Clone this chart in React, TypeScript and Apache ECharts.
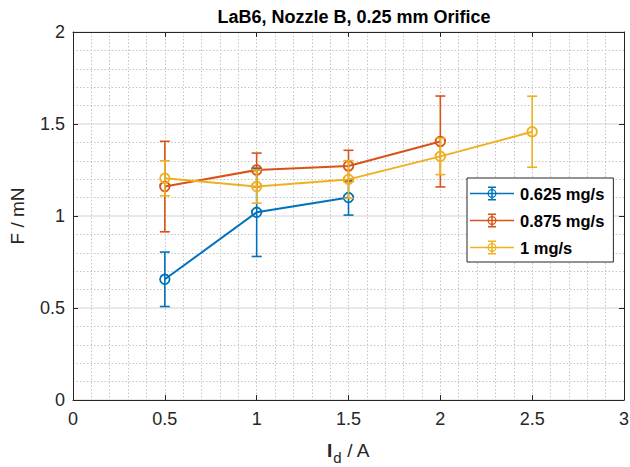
import React, { useEffect, useRef } from "react";
import * as echarts from "echarts";

// Discharge current I_d (A) for each flow rate
const currents0625 = [0.5, 1.0, 1.5];
const currents0875 = [0.5, 1.0, 1.5, 2.0];
const currents1000 = [0.5, 1.0, 1.5, 2.0, 2.5];

// Mean thrust F (mN)
const thrust0625 = [0.656, 1.02, 1.1];
const thrust0875 = [1.16, 1.25, 1.272, 1.405];
const thrust1000 = [1.205, 1.16, 1.199, 1.324, 1.458];

// Half-width of the error bars (mN)
const err0625 = [0.148, 0.24, 0.095];
const err0875 = [0.246, 0.092, 0.085, 0.247];
const err1000 = [0.095, 0.09, 0.102, 0.099, 0.193];

const seriesNames = ["0.625 mg/s", "0.875 mg/s", "1 mg/s"];
const seriesColors = ["#0072BD", "#D95319", "#EDB120"];

const xTicks = { min: 0, max: 3, interval: 0.5 };
const yTicks = { min: 0, max: 2, interval: 0.5 };

const FONT = 'Arial, "Liberation Sans", Helvetica, sans-serif';
const TEXT = "#262626";

// Legend glyph: line + errorbar + hollow circle (ring via opposite winding)
const ERRORBAR_ICON =
  "path://M0 6.25H44V7.75H0Z" +
  "M21.25 0H22.75V14H21.25Z" +
  "M18 0H26V1.5H18Z" +
  "M18 12.5H26V14H18Z" +
  "M26.5 7A4.5 4.5 0 1 1 17.5 7A4.5 4.5 0 1 1 26.5 7Z" +
  "M25.2 7A3.2 3.2 0 1 0 18.8 7A3.2 3.2 0 1 0 25.2 7Z";

type Group = { x: number[]; y: number[]; e: number[] };
const groups: Group[] = [
  { x: currents0625, y: thrust0625, e: err0625 },
  { x: currents0875, y: thrust0875, e: err0875 },
  { x: currents1000, y: thrust1000, e: err1000 },
];

function buildSeries(): any[] {
  const out: any[] = [];
  groups.forEach((g, i) => {
    const color = seriesColors[i];
    out.push({
      name: seriesNames[i],
      type: "line",
      data: g.x.map((x, k) => [x, g.y[k]]),
      symbol: "none",
      lineStyle: { color, width: 2 },
      itemStyle: { color },
      z: 2 + i * 2,
    });
    out.push({
      name: "err-" + seriesNames[i],
      type: "custom",
      data: g.x.map((x, k) => [x, g.y[k], g.y[k] - g.e[k], g.y[k] + g.e[k]]),
      encode: { x: 0, y: [1, 2, 3] },
      z: 3 + i * 2,
      renderItem: (_params: any, api: any) => {
        const x = api.value(0);
        const c = api.coord([x, api.value(1)]);
        const lo = api.coord([x, api.value(2)]);
        const hi = api.coord([x, api.value(3)]);
        const half = 5;
        const style = { stroke: color, lineWidth: 1.6, fill: "none" };
        return {
          type: "group",
          children: [
            { type: "line", shape: { x1: lo[0], y1: lo[1], x2: hi[0], y2: hi[1] }, style },
            { type: "line", shape: { x1: hi[0] - half, y1: hi[1], x2: hi[0] + half, y2: hi[1] }, style },
            { type: "line", shape: { x1: lo[0] - half, y1: lo[1], x2: lo[0] + half, y2: lo[1] }, style },
            { type: "circle", shape: { cx: c[0], cy: c[1], r: 4.8 }, style: { stroke: color, lineWidth: 1.8, fill: "none" } },
          ],
        };
      },
    });
  });
  return out;
}

const dotted = { color: "#c4c4c4", width: 1, type: [1.5, 2] as any };

export default function App() {
  const ref = useRef<HTMLDivElement>(null);

  useEffect(() => {
    if (!ref.current) return;
    const chart = echarts.init(ref.current, undefined, { renderer: "svg" });
    const tickStyle = { show: true, inside: true, length: 5, lineStyle: { color: TEXT, width: 1 } };
    const axisLine = { show: true, onZero: false, lineStyle: { color: TEXT, width: 1 } };

    chart.setOption({
      animation: false,
      backgroundColor: "#ffffff",
      title: {
        text: "LaB6, Nozzle B, 0.25 mm Orifice",
        left: 349,
        top: 3,
        textAlign: "center",
        textStyle: { fontFamily: FONT, fontSize: 18, fontWeight: "bold", color: "#000" },
      },
      grid: { left: 73, right: 6, top: 32, bottom: 67, containLabel: false, outerBoundsMode: "none" },
      legend: {
        orient: "vertical",
        left: 467,
        top: 178,
        padding: [7, 9, 6, 3],
        itemWidth: 46,
        itemHeight: 14,
        itemGap: 10,
        backgroundColor: "#ffffff",
        borderColor: TEXT,
        borderWidth: 1,
        borderRadius: 0,
        itemStyle: { borderWidth: 0 },
        textStyle: { fontFamily: FONT, fontSize: 16.5, fontWeight: "bold", color: "#000", lineHeight: 14 },
        data: seriesNames.map((n) => ({ name: n, icon: ERRORBAR_ICON })),
        selectedMode: false,
      },
      xAxis: [
        {
          type: "value",
          position: "bottom",
          ...xTicks,
          axisLine,
          axisTick: tickStyle,
          axisLabel: { fontFamily: FONT, fontSize: 18, color: TEXT, margin: 10 },
          splitLine: { show: true, lineStyle: dotted },
          minorTick: { show: false, splitNumber: 5 },
          minorSplitLine: { show: true, lineStyle: dotted },
          name: "{i|I}{d|d}{t| / A}",
          nameLocation: "middle",
          nameGap: 41,
          nameTextStyle: {
            fontFamily: FONT,
            color: TEXT,
            rich: {
              i: { fontFamily: FONT, fontSize: 19, fontWeight: "bold", color: TEXT, lineHeight: 20, verticalAlign: "top" },
              d: { fontFamily: FONT, fontSize: 15, color: TEXT, lineHeight: 16, padding: [9, 0, 0, 1], verticalAlign: "top" },
              t: { fontFamily: FONT, fontSize: 19, color: TEXT, lineHeight: 20, verticalAlign: "top" },
            },
          },
        },
        {
          type: "value",
          position: "top",
          ...xTicks,
          axisLine,
          axisTick: tickStyle,
          axisLabel: { show: false },
          splitLine: { show: false },
        },
      ],
      yAxis: [
        {
          type: "value",
          position: "left",
          ...yTicks,
          axisLine,
          axisTick: tickStyle,
          axisLabel: { fontFamily: FONT, fontSize: 18, color: TEXT, margin: 8 },
          splitLine: { show: true, lineStyle: { color: "#e2e2e2", width: 1.5 } },
          minorTick: { show: false, splitNumber: 5 },
          minorSplitLine: { show: true, lineStyle: dotted },
          name: "F / mN",
          nameLocation: "middle",
          nameGap: 46,
          nameTextStyle: { fontFamily: FONT, fontSize: 19, color: TEXT },
        },
        {
          type: "value",
          position: "right",
          ...yTicks,
          axisLine,
          axisTick: tickStyle,
          axisLabel: { show: false },
          splitLine: { show: false },
        },
      ],
      series: buildSeries(),
    });

    return () => chart.dispose();
  }, []);

  return <div ref={ref} style={{ width: 630, height: 467, position: "absolute", left: 0, top: 0 }} />;
}
